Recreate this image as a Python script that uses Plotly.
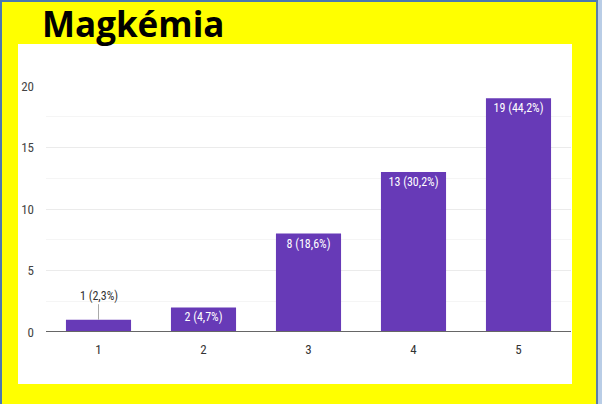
import plotly.graph_objects as go

categories = ["1", "2", "3", "4", "5"]
counts = [1, 2, 8, 13, 19]
percents = ["2,3", "4,7", "18,6", "30,2", "44,2"]
y_ticks = [0, 5, 10, 15, 20]
title_text = "Magkémia"

W, H = 602, 404
L, R, T, B = 46, 571, 86, 332  # plot area in pixels


def px_x(x):
    return (x - L) / (R - L)


def px_y(y):
    return (B - y) / (B - T)


labels = [f"{c} ({p}%)" for c, p in zip(counts, percents)]
positions = ["none" if c < 2 else "inside" for c in counts]
label_font = "Liberation Sans Narrow, Roboto Condensed, Roboto, Arial"

fig = go.Figure()
fig.add_trace(go.Bar(
    x=[int(c) for c in categories],
    y=counts,
    width=0.62,
    marker=dict(color="#673ab7", line=dict(width=0)),
    text=labels,
    textposition=positions,
    insidetextanchor="end",
    textfont=dict(family=label_font, size=12, color="#ffffff"),
    constraintext="none",
    hoverinfo="skip",
))

for c, v, lab in zip(categories, counts, labels):
    if v < 2:
        fig.add_annotation(x=int(c), y=v, xref="x", yref="y", text=lab,
                           showarrow=True, arrowhead=0, arrowwidth=1,
                           arrowcolor="#aaaaaa", ax=0, ay=-24,
                           font=dict(family=label_font, size=12, color="#333333"))

shapes = [
    dict(type="rect", xref="paper", yref="paper", layer="below",
         x0=px_x(18), x1=px_x(572), y0=px_y(384), y1=px_y(44),
         fillcolor="white", line=dict(width=0)),
    dict(type="rect", xref="paper", yref="paper", layer="below",
         x0=px_x(0), x1=px_x(2), y0=px_y(404), y1=px_y(0),
         fillcolor="#4a78b0", line=dict(width=0)),
    dict(type="rect", xref="paper", yref="paper", layer="below",
         x0=px_x(0), x1=px_x(602), y0=px_y(2), y1=px_y(0),
         fillcolor="#4a78b0", line=dict(width=0)),
    dict(type="rect", xref="paper", yref="paper", layer="below",
         x0=px_x(596), x1=px_x(598), y0=px_y(404), y1=px_y(0),
         fillcolor="#5a7fa8", line=dict(width=0)),
    dict(type="rect", xref="paper", yref="paper", layer="below",
         x0=px_x(598), x1=px_x(602), y0=px_y(404), y1=px_y(0),
         fillcolor="#b9cde6", line=dict(width=0)),
]

fig.update_layout(
    width=W, height=H,
    margin=dict(l=L, r=W - R, t=T, b=H - B, pad=0),
    paper_bgcolor="#ffff00",
    plot_bgcolor="white",
    showlegend=False,
    shapes=shapes,
    title=dict(text="<b>" + title_text + "</b>", x=42 / W, xanchor="left", xref="container",
               y=1 - 37 / H, yanchor="bottom", yref="container",
               font=dict(family="Open Sans, Arial", size=35, color="#000000")),
    xaxis=dict(range=[0.5, 5.5], tickvals=[1, 2, 3, 4, 5], ticktext=categories,
               showgrid=False, zeroline=False, showline=False, ticks="", ticklabelstandoff=8,
               tickfont=dict(family=label_font, size=13, color="#333333")),
    yaxis=dict(range=[0, 20], tickvals=y_ticks, showgrid=True, gridcolor="#ebebeb", gridwidth=1,
               minor=dict(dtick=2.5, showgrid=True, gridcolor="#f5f5f5"),
               zeroline=False, showline=False, ticks="", ticklabelstandoff=11,
               tickfont=dict(family=label_font, size=13, color="#444444")),
)
fig.add_shape(type="line", xref="paper", yref="y", x0=0, x1=1, y0=0, y1=0,
              line=dict(color="#666666", width=2), layer="above")

fig.write_html("out.html", config={"displayModeBar": False},
               post_script="document.body.style.margin='0';document.body.style.overflow='hidden';")
